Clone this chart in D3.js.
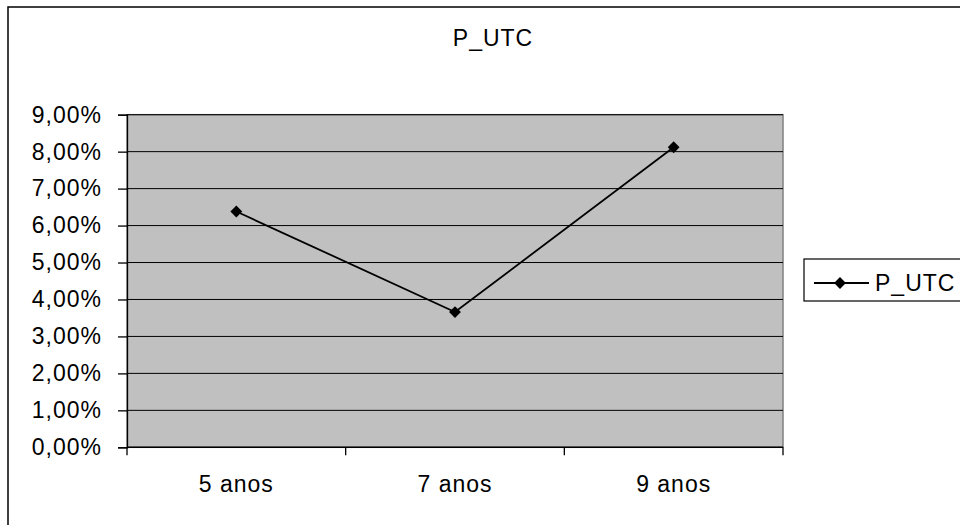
<!DOCTYPE html>
<html>
<head>
<meta charset="utf-8">
<script src="https://cdn.jsdelivr.net/npm/d3@7"></script>
<style>
    body { margin: 0; background: #fff; }
    svg { display: block; font-family: "Liberation Sans", Arial, sans-serif; }
    text { letter-spacing: 1px; }
</style>
</head>
<body>
<svg id="chart" width="960" height="525"></svg>
<script>
// data
const categories = ['5 anos', '7 anos', '9 anos'];
const values = [6.38, 3.66, 8.12];
const yTicks = [0, 1, 2, 3, 4, 5, 6, 7, 8, 9];
const seriesName = 'P_UTC';

const margin = { top: 114.7, right: 177, bottom: 78, left: 127 };
const W = 960, H = 525;
const innerW = W - margin.left - margin.right;
const innerH = 447.3 - margin.top;
const fontSize = 23;

const svg = d3.select('#chart');

// outer frame (right / bottom edges fall outside the picture)
svg.append('rect')
    .attr('x', 8).attr('y', 7)
    .attr('width', W + 10).attr('height', H + 10)
    .attr('fill', '#fff').attr('stroke', '#000').attr('stroke-width', 1.5);

svg.append('text')
    .attr('x', 493).attr('y', 45.5)
    .attr('text-anchor', 'middle')
    .attr('font-size', fontSize)
    .text(seriesName);

const g = svg.append('g').attr('transform', `translate(${margin.left},${margin.top})`);

const x = d3.scaleBand().domain(categories).range([0, innerW]);
const y = d3.scaleLinear().domain([0, 9]).range([innerH, 0]);

// plot area
g.append('rect')
    .attr('width', innerW).attr('height', innerH)
    .attr('fill', '#c0c0c0')
    .attr('stroke', '#808080').attr('stroke-width', 1.5);

// gridlines
g.append('g')
    .selectAll('line')
    .data(yTicks.filter(d => d > 0))
    .join('line')
    .attr('x1', 0).attr('x2', innerW)
    .attr('y1', d => y(d)).attr('y2', d => y(d))
    .attr('stroke', '#000').attr('stroke-width', 1);

// y axis
const yAxis = g.append('g')
    .call(d3.axisLeft(y).tickValues(yTicks).tickSize(9).tickPadding(16)
        .tickFormat(d => d.toFixed(2).replace('.', ',') + '%'));
yAxis.selectAll('path, line').attr('stroke', '#000').attr('stroke-width', 1.3);
yAxis.selectAll('text').attr('font-size', fontSize).attr('fill', '#000')
    .attr('font-family', '"Liberation Sans", Arial, sans-serif');

// x axis: ticks at category boundaries
const xAxis = g.append('g').attr('transform', `translate(0,${innerH})`);
xAxis.append('line')
    .attr('x1', 0).attr('x2', innerW)
    .attr('stroke', '#000').attr('stroke-width', 1.5);
xAxis.selectAll('.tick')
    .data(categories.map(c => x(c)).concat([innerW]))
    .join('line')
    .attr('x1', d => d).attr('x2', d => d)
    .attr('y1', 0).attr('y2', 8)
    .attr('stroke', '#000').attr('stroke-width', 1.3);
xAxis.selectAll('text')
    .data(categories)
    .join('text')
    .attr('x', d => x(d) + x.bandwidth() / 2)
    .attr('y', 45)
    .attr('text-anchor', 'middle')
    .attr('font-size', fontSize)
    .text(d => d);

// series line
const line = d3.line()
    .x((d, i) => x(categories[i]) + x.bandwidth() / 2)
    .y(d => y(d));

g.append('path')
    .datum(values)
    .attr('d', line)
    .attr('fill', 'none')
    .attr('stroke', '#000').attr('stroke-width', 1.8);

const diamond = d3.symbol().type(d3.symbolSquare).size(70);
g.selectAll('.pt')
    .data(values)
    .join('path')
    .attr('class', 'pt')
    .attr('d', diamond)
    .attr('transform', (d, i) => `translate(${x(categories[i]) + x.bandwidth() / 2},${y(d)}) rotate(45)`)
    .attr('fill', '#000');

// legend
const leg = svg.append('g').attr('transform', 'translate(804,259)');
leg.append('rect')
    .attr('width', 170).attr('height', 42)
    .attr('fill', '#fff').attr('stroke', '#000').attr('stroke-width', 1.2);
leg.append('line')
    .attr('x1', 10).attr('x2', 65).attr('y1', 24).attr('y2', 24)
    .attr('stroke', '#000').attr('stroke-width', 1.8);
leg.append('path')
    .attr('d', diamond)
    .attr('transform', 'translate(36,24) rotate(45)')
    .attr('fill', '#000');
leg.append('text')
    .attr('x', 71).attr('y', 32)
    .attr('font-size', fontSize)
    .text(seriesName);
</script>
</body>
</html>
